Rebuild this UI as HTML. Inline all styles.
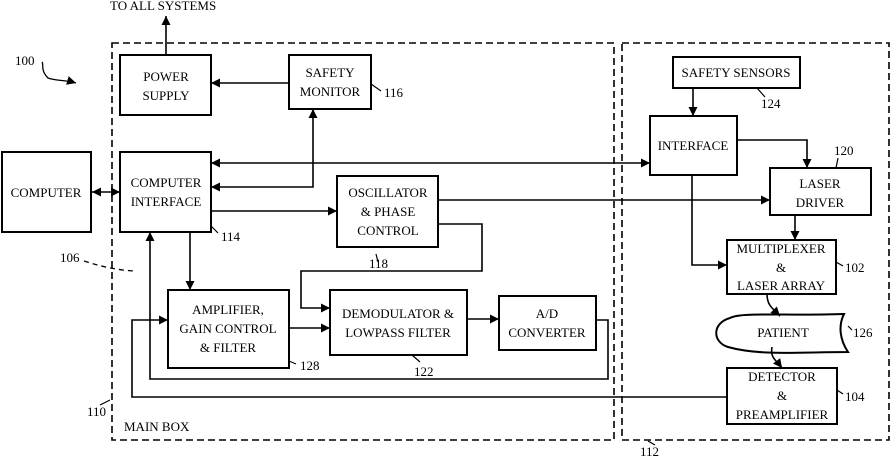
<!DOCTYPE html>
<html><head><style>
html,body{margin:0;padding:0;background:#fff}
svg{display:block}
text{font-family:"Liberation Serif",serif;font-size:13px;fill:#000}
</style></head><body>
<svg width="892" height="458" viewBox="0 0 892 458" xmlns="http://www.w3.org/2000/svg">
<defs>
<marker id="a" viewBox="0 0 10 10" refX="10" refY="5" markerWidth="9" markerHeight="9" markerUnits="userSpaceOnUse" orient="auto-start-reverse"><path d="M0,0L10,5L0,10z" fill="#000"/></marker>
</defs>
<g fill="none" stroke="#000" stroke-width="1.6">
<rect x="112" y="43" width="502" height="397" stroke-dasharray="7,4"/>
<rect x="622" y="43" width="267" height="397" stroke-dasharray="7,4"/>
<g stroke-width="2">
<rect x="120" y="55" width="91" height="60"/>
<rect x="289" y="55" width="82" height="54"/>
<rect x="2" y="152" width="89" height="80"/>
<rect x="120" y="152" width="91" height="80"/>
<rect x="337" y="176" width="101" height="71"/>
<rect x="168" y="290" width="121" height="78"/>
<rect x="330" y="290" width="137" height="65"/>
<rect x="499" y="296" width="97" height="54"/>
<rect x="673" y="57" width="127" height="31"/>
<rect x="650" y="116" width="87" height="59"/>
<rect x="770" y="168" width="101" height="47"/>
<rect x="727" y="240" width="109" height="54"/>
<rect x="727" y="368" width="110" height="56"/>
<path d="M730,318 C740,312 780,316 844,314 C838,326 840,340 848,352 C800,352 760,356 728,347 C712,342 712,323 730,318z"/>
</g>
<path d="M166,55V16" marker-end="url(#a)"/>
<path d="M289,83H211" marker-end="url(#a)"/>
<path d="M92,192H120" marker-start="url(#a)" marker-end="url(#a)"/>
<path d="M211,163H650" marker-start="url(#a)" marker-end="url(#a)"/>
<path d="M211,187H313V109" marker-start="url(#a)" marker-end="url(#a)"/>
<path d="M211,211H337" marker-end="url(#a)"/>
<path d="M438,200H770" marker-end="url(#a)"/>
<path d="M438,224H482V271H301V308H330" marker-end="url(#a)"/>
<path d="M190,232V290" marker-end="url(#a)"/>
<path d="M289,328H330" marker-end="url(#a)"/>
<path d="M467,319H499" marker-end="url(#a)"/>
<path d="M596,320H608V379H150V232" marker-end="url(#a)"/>
<path d="M727,397H132V320H168" marker-end="url(#a)"/>
<path d="M693,88V116" marker-end="url(#a)"/>
<path d="M737,140H807V168" marker-end="url(#a)"/>
<path d="M692,175V265H727" marker-end="url(#a)"/>
<path d="M795,215V240" marker-end="url(#a)"/>
<path d="M767,294C767,305 772,308 780,316" marker-end="url(#a)"/>
<path d="M772,347C770,358 776,360 782,368" marker-end="url(#a)"/>
<path d="M42,62C44,64 40,70 48,78C56,81 66,80 76,83" stroke-width="1.3" marker-end="url(#a)"/>
<path d="M84,261C100,266 115,270 135,271" stroke-dasharray="5,4" stroke-width="1.3"/>
<path d="M371,84L381,91M211,226L218,233M376,254L378,262M289,361L296,364M412,355L420,362M838,158L836,168M757,88L765,97M836,262L843,266M848,326L852,330M837,390L843,394M100,405L110,400M655,445L648,441" stroke-width="1.2"/>
</g>
<text x="110" y="10">TO ALL SYSTEMS</text>
<text x="15" y="65">100</text>
<text x="166" y="81" text-anchor="middle">POWER</text>
<text x="166" y="100" text-anchor="middle">SUPPLY</text>
<text x="330" y="77" text-anchor="middle">SAFETY</text>
<text x="330" y="96" text-anchor="middle">MONITOR</text>
<text x="384" y="97">116</text>
<text x="46" y="197" text-anchor="middle">COMPUTER</text>
<text x="166" y="187" text-anchor="middle">COMPUTER</text>
<text x="166" y="206" text-anchor="middle">INTERFACE</text>
<text x="221" y="241">114</text>
<text x="388" y="197" text-anchor="middle">OSCILLATOR</text>
<text x="388" y="216" text-anchor="middle">&amp; PHASE</text>
<text x="388" y="235" text-anchor="middle">CONTROL</text>
<text x="369" y="268">118</text>
<text x="60" y="262">106</text>
<text x="228" y="314" text-anchor="middle">AMPLIFIER,</text>
<text x="228" y="333" text-anchor="middle">GAIN CONTROL</text>
<text x="228" y="352" text-anchor="middle">&amp; FILTER</text>
<text x="300" y="370">128</text>
<text x="398" y="318" text-anchor="middle">DEMODULATOR &amp;</text>
<text x="398" y="337" text-anchor="middle">LOWPASS FILTER</text>
<text x="414" y="376">122</text>
<text x="547" y="318" text-anchor="middle">A/D</text>
<text x="547" y="337" text-anchor="middle">CONVERTER</text>
<text x="87" y="416">110</text>
<text x="124" y="431">MAIN BOX</text>
<text x="736" y="77" text-anchor="middle">SAFETY SENSORS</text>
<text x="761" y="108">124</text>
<text x="834" y="155">120</text>
<text x="693" y="150" text-anchor="middle">INTERFACE</text>
<text x="820" y="188" text-anchor="middle">LASER</text>
<text x="820" y="207" text-anchor="middle">DRIVER</text>
<text x="781" y="253" text-anchor="middle">MULTIPLEXER</text>
<text x="781" y="272" text-anchor="middle">&amp;</text>
<text x="781" y="290" text-anchor="middle">LASER ARRAY</text>
<text x="845" y="272">102</text>
<text x="783" y="337" text-anchor="middle">PATIENT</text>
<text x="853" y="337">126</text>
<text x="782" y="381" text-anchor="middle">DETECTOR</text>
<text x="782" y="400" text-anchor="middle">&amp;</text>
<text x="782" y="419" text-anchor="middle">PREAMPLIFIER</text>
<text x="845" y="401">104</text>
<text x="640" y="456">112</text>
</svg>
</body></html>
